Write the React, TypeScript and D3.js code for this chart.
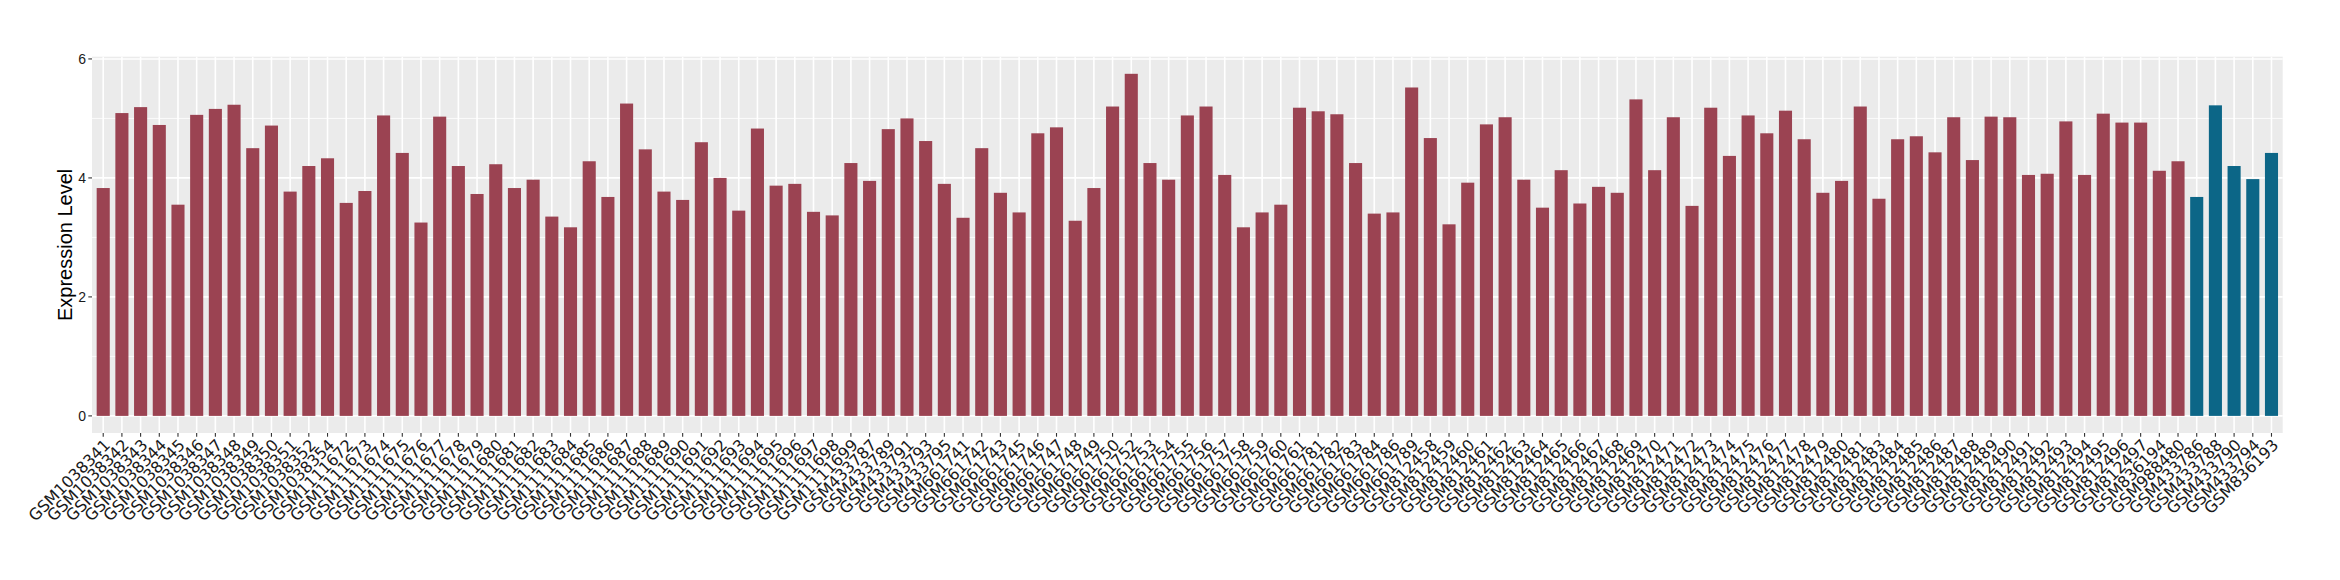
import React from "react";
import * as d3 from "d3";

const samples: string[] = [
  "GSM1038341","GSM1038342","GSM1038343","GSM1038344","GSM1038345","GSM1038346","GSM1038347","GSM1038348","GSM1038349","GSM1038350","GSM1038351","GSM1038352","GSM1038354",
  "GSM1111672","GSM1111673","GSM1111674","GSM1111675","GSM1111676","GSM1111677","GSM1111678","GSM1111679","GSM1111680","GSM1111681","GSM1111682","GSM1111683","GSM1111684","GSM1111685","GSM1111686","GSM1111687","GSM1111688","GSM1111689","GSM1111690","GSM1111691","GSM1111692","GSM1111693","GSM1111694","GSM1111695","GSM1111696","GSM1111697","GSM1111698","GSM1111699",
  "GSM433787","GSM433789","GSM433791","GSM433793","GSM433795",
  "GSM661741","GSM661742","GSM661743","GSM661745","GSM661746","GSM661747","GSM661748","GSM661749","GSM661750","GSM661752","GSM661753","GSM661754","GSM661755","GSM661756","GSM661757","GSM661758","GSM661759","GSM661760","GSM661761","GSM661781","GSM661782","GSM661783","GSM661784","GSM661786","GSM661789",
  "GSM812458","GSM812459","GSM812460","GSM812461","GSM812462","GSM812463","GSM812464","GSM812465","GSM812466","GSM812467","GSM812468","GSM812469","GSM812470","GSM812471","GSM812472","GSM812473","GSM812474","GSM812475","GSM812476","GSM812477","GSM812478","GSM812479","GSM812480","GSM812481","GSM812483","GSM812484","GSM812485","GSM812486","GSM812487","GSM812488","GSM812489","GSM812490","GSM812491","GSM812492","GSM812493","GSM812494","GSM812495","GSM812496","GSM812497",
  "GSM836194","GSM988480",
  "GSM433786","GSM433788","GSM433790","GSM433794","GSM836193",
];

const values: number[] = [
  3.83, 5.09, 5.19, 4.89, 3.55, 5.06, 5.16, 5.23, 4.50, 4.88, 3.77, 4.20, 4.33,
  3.58, 3.78, 5.05, 4.42, 3.25, 5.03, 4.20, 3.73, 4.23, 3.83, 3.97, 3.35, 3.17, 4.28, 3.68, 5.25, 4.48, 3.77, 3.63, 4.60, 4.00, 3.45, 4.83, 3.87, 3.90, 3.43, 3.37, 4.25,
  3.95, 4.82, 5.00, 4.62, 3.90,
  3.33, 4.50, 3.75, 3.42, 4.75, 4.85, 3.28, 3.83, 5.20, 5.75, 4.25, 3.97, 5.05, 5.20, 4.05, 3.17, 3.42, 3.55, 5.18, 5.12, 5.07, 4.25, 3.40, 3.42, 5.52,
  4.67, 3.22, 3.92, 4.90, 5.02, 3.97, 3.50, 4.13, 3.57, 3.85, 3.75, 5.32, 4.13, 5.02, 3.53, 5.18, 4.37, 5.05, 4.75, 5.13, 4.65, 3.75, 3.95, 5.20, 3.65, 4.65, 4.70, 4.43, 5.02, 4.30, 5.03, 5.02, 4.05, 4.07, 4.95, 4.05, 5.08, 4.93, 4.93,
  4.12, 4.28,
  3.68, 5.22, 4.20, 3.98, 4.42,
];

const highlighted: string[] = ["GSM433786", "GSM433788", "GSM433790", "GSM433794", "GSM836193"];

const yTicks: number[] = [0, 2, 4, 6];
const yMinor: number[] = [1, 3, 5];

const W = 2340;
const H = 580;
const panel = { left: 92, right: 2282.7, top: 56.7, bottom: 433 };
const RED = "#9B4352";
const BLUE = "#0C6687";

export default function App() {
  const data = samples.map((s, i) => ({ s, v: values[i] }));
  const x = d3.scalePoint<string>().domain(samples).range([panel.left, panel.right]).padding(0.6);
  const step = x.step();
  const barW = step * 0.7;
  const maxV = d3.max(values) as number;
  const y = d3.scaleLinear().domain([-0.05 * maxV, 1.05 * maxV]).range([panel.bottom, panel.top]);

  return (
    <svg width={W} height={H} style={{ position: "absolute", left: 0, top: 0, background: "#fff" }}>
      <rect x={panel.left} y={panel.top} width={panel.right - panel.left} height={panel.bottom - panel.top} fill="#EBEBEB" />
      {yMinor.map((t) => (
        <line key={"mn" + t} x1={panel.left} x2={panel.right} y1={y(t)} y2={y(t)} stroke="#fff" strokeWidth={0.8} />
      ))}
      {yTicks.map((t) => (
        <line key={"mj" + t} x1={panel.left} x2={panel.right} y1={y(t)} y2={y(t)} stroke="#fff" strokeWidth={1.6} />
      ))}
      {samples.map((s) => (
        <line key={"vg" + s} x1={x(s)} x2={x(s)} y1={panel.top} y2={panel.bottom} stroke="#fff" strokeWidth={1.6} />
      ))}
      {data.map((d) => (
        <rect
          key={d.s}
          x={(x(d.s) as number) - barW / 2}
          y={y(d.v)}
          width={barW}
          height={y(0) - y(d.v)}
          fill={highlighted.includes(d.s) ? BLUE : RED}
        />
      ))}
      {yTicks.map((t) => (
        <g key={"yt" + t}>
          <line x1={panel.left - 3.7} x2={panel.left} y1={y(t)} y2={y(t)} stroke="#333" strokeWidth={1.1} />
          <text x={panel.left - 6} y={y(t)} dy="0.35em" textAnchor="end" fontFamily="Liberation Sans, Arial, sans-serif" fontSize={14} fill="#1a1a1a">
            {t}
          </text>
        </g>
      ))}
      {samples.map((s) => (
        <g key={"xt" + s}>
          <line x1={x(s)} x2={x(s)} y1={panel.bottom} y2={panel.bottom + 3.7} stroke="#333" strokeWidth={1.1} />
          <text
            transform={`translate(${x(s)},${panel.bottom + 5}) rotate(-45)`}
            textAnchor="end"
            dy="0.71em"
            fontFamily="DejaVu Sans, sans-serif"
            fontSize={16}
            fill="#1a1a1a"
          >
            {s}
          </text>
        </g>
      ))}
      <text
        transform={`translate(65,${(panel.top + panel.bottom) / 2}) rotate(-90)`}
        textAnchor="middle"
        dy="0.35em"
        fontFamily="Liberation Sans, Arial, sans-serif"
        fontSize={20}
        fill="#000"
      >
        Expression Level
      </text>
    </svg>
  );
}
